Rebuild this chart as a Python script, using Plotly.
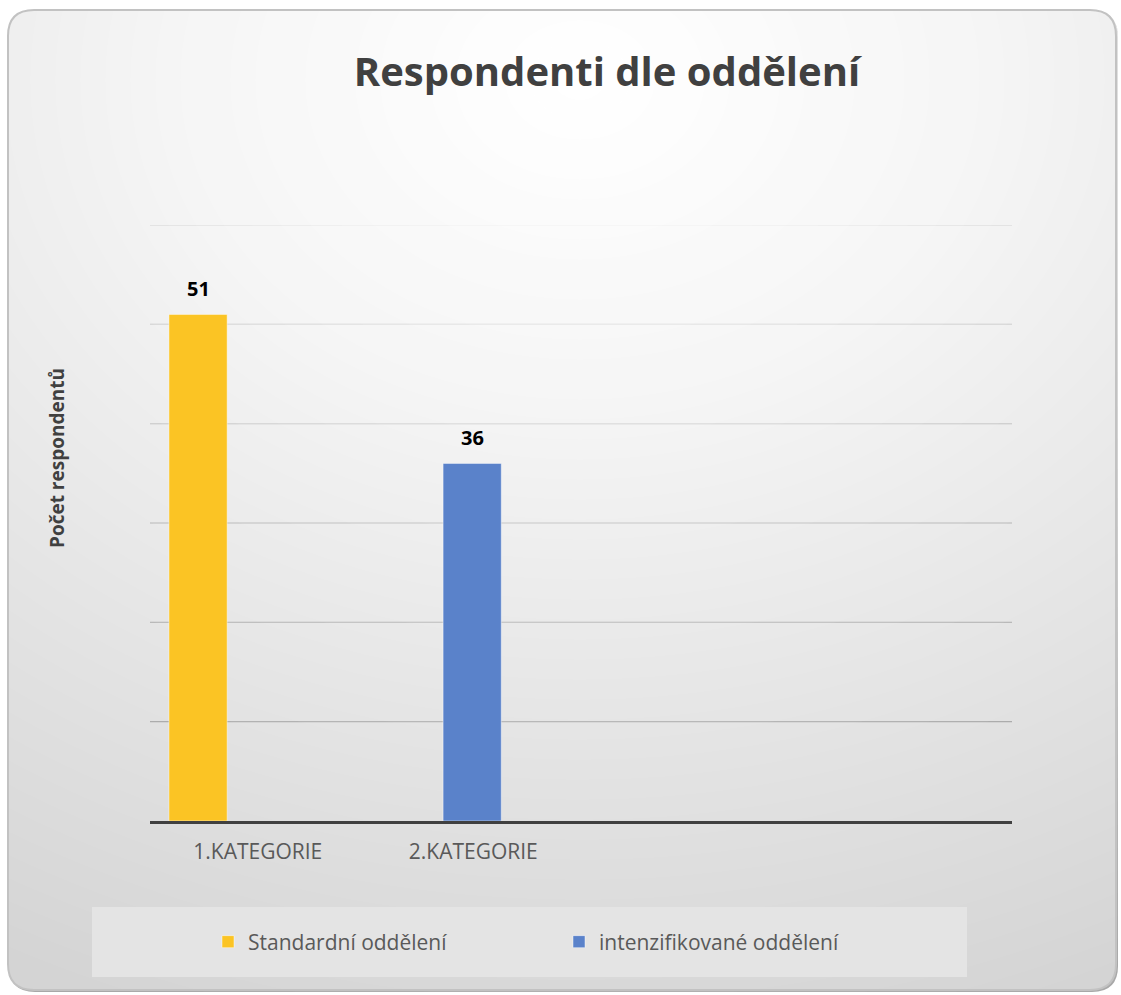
import plotly.graph_objects as go

# ---- data -------------------------------------------------------------
categories = ["1.KATEGORIE", "2.KATEGORIE"]
standardni = [51, None]
intenzifikovane = [None, 36]
series_names = ["Standardní oddělení", "intenzifikované oddělení"]
grid_values = [10, 20, 30, 40, 50, 60]

title_text = "Respondenti dle oddělení"
y_title = "Počet respondentů"

# ---- geometry / style -------------------------------------------------
W, H = 1121, 995
PL, PR, PT, PB = 150, 1012, 225, 821          # plot area in pixels
FONT = "Open Sans"
YELLOW = "#FBC424"
BLUE = "#5A82CA"
BAR_W = 0.27
OFFSETS = [-0.412, -0.14]


def fx(px):
    """pixel x -> paper x"""
    return (px - PL) / (PR - PL)


def fy(py):
    """pixel y -> paper y"""
    return (PB - py) / (PB - PT)


def rounded_path(x0, y0, x1, y1, r):
    pts = [
        ("M", [(x0 + r, y0)]),
        ("L", [(x1 - r, y0)]),
        ("Q", [(x1, y0), (x1, y0 + r)]),
        ("L", [(x1, y1 - r)]),
        ("Q", [(x1, y1), (x1 - r, y1)]),
        ("L", [(x0 + r, y1)]),
        ("Q", [(x0, y1), (x0, y1 - r)]),
        ("L", [(x0, y0 + r)]),
        ("Q", [(x0, y0), (x0 + r, y0)]),
    ]
    out = []
    for cmd, ps in pts:
        out.append(cmd + " " + " ".join(f"{fx(a):.5f},{fy(b):.5f}" for a, b in ps))
    return " ".join(out) + " Z"


shapes = []

# frame shadow and base fill
shapes.append(dict(type="path", xref="paper", yref="paper", layer="below",
                   path=rounded_path(9, 11, 1118, 992, 26),
                   fillcolor="#a8a8a8", line=dict(width=0)))
shapes.append(dict(type="path", xref="paper", yref="paper", layer="below",
                   path=rounded_path(8, 10, 1116, 990, 26),
                   fillcolor="#d4d4d4", line=dict(width=0)))

# horizontal gridlines
for v in grid_values:
    shapes.append(dict(type="line", xref="paper", yref="y", layer="below",
                       x0=0, x1=1, y0=v, y1=v,
                       line=dict(color="#767676", width=1)))

# soft radial light of the chart area (stacked translucent ellipses)
cx, cy = 580, 80
sx = 1.25                     # horizontal stretch of the ellipses
r_out = 1000
prev = 212.0
r = r_out
while r > 0:
    t = 212 + 43 * (1 - (r / r_out) ** 1.6)
    a = (t - prev) / (255 - prev)
    prev = t
    if a > 0:
        shapes.append(dict(type="circle", xref="paper", yref="paper", layer="below",
                           x0=fx(cx - r * sx), x1=fx(cx + r * sx),
                           y0=fy(cy + r), y1=fy(cy - r),
                           fillcolor=f"rgba(255,255,255,{a:.4f})", line=dict(width=0)))
    r -= 20

# legend panel
shapes.append(dict(type="rect", xref="paper", yref="paper", layer="below",
                   x0=fx(92), x1=fx(967), y0=fy(977), y1=fy(907),
                   fillcolor="#e4e4e4", line=dict(width=0)))

# frame border
shapes.append(dict(type="path", xref="paper", yref="paper", layer="below",
                   path=rounded_path(8, 10, 1116, 990, 26),
                   fillcolor="rgba(0,0,0,0)", line=dict(color="#c2c2c2", width=2)))

fig = go.Figure()
for vals, name, color, off in [(standardni, series_names[0], YELLOW, OFFSETS[0]),
                               (intenzifikovane, series_names[1], BLUE, OFFSETS[1])]:
    fig.add_trace(go.Bar(
        x=categories, y=vals, name=name, width=BAR_W, offset=off,
        marker=dict(color=color, line=dict(color="rgba(255,255,255,0.45)", width=1)),
    ))

# value labels above bars
annotations = []
for vals, off in [(standardni, OFFSETS[0]), (intenzifikovane, OFFSETS[1])]:
    for i, v in enumerate(vals):
        if v is None:
            continue
        annotations.append(dict(
            x=i + off + BAR_W / 2, y=v, xref="x", yref="y", text=f"<b>{v}</b>",
            showarrow=False, yshift=26, yanchor="middle",
            font=dict(family=FONT, size=20, color="#000000")))

annotations.append(dict(
    x=fx(57), y=fy(458), xref="paper", yref="paper", text=f"<b>{y_title}</b>",
    textangle=-90, showarrow=False, xanchor="center", yanchor="middle",
    font=dict(family=FONT, size=19, color="#404040")))

fig.update_layout(
    width=W, height=H, autosize=False,
    margin=dict(l=PL, r=W - PR, t=PT, b=H - PB, pad=0),
    paper_bgcolor="#ffffff", plot_bgcolor="rgba(0,0,0,0)",
    barmode="overlay",
    title=dict(text=f"<b>{title_text}</b>", x=607 / W, y=1 - 72 / H,
               xref="container", yref="container", xanchor="center", yanchor="middle",
               font=dict(family=FONT, size=40, color="#404040")),
    xaxis=dict(type="category", categoryorder="array", categoryarray=categories,
               range=[-0.5, 3.5], showgrid=False, zeroline=False,
               showline=True, linecolor="#404040", linewidth=3,
               ticks="", ticklabelstandoff=10,
               tickfont=dict(family=FONT, size=21, color="#595959")),
    yaxis=dict(range=[0, 60], showgrid=False, zeroline=False, showticklabels=False,
               showline=False, ticks=""),
    showlegend=True,
    legend=dict(orientation="h", x=fx(208), xanchor="left", y=fy(942), yanchor="middle",
                bgcolor="rgba(0,0,0,0)", entrywidth=306, entrywidthmode="pixels",
                font=dict(family=FONT, size=21, color="#595959")),
    shapes=shapes,
    annotations=annotations,
)

fig.write_html("out.html")
